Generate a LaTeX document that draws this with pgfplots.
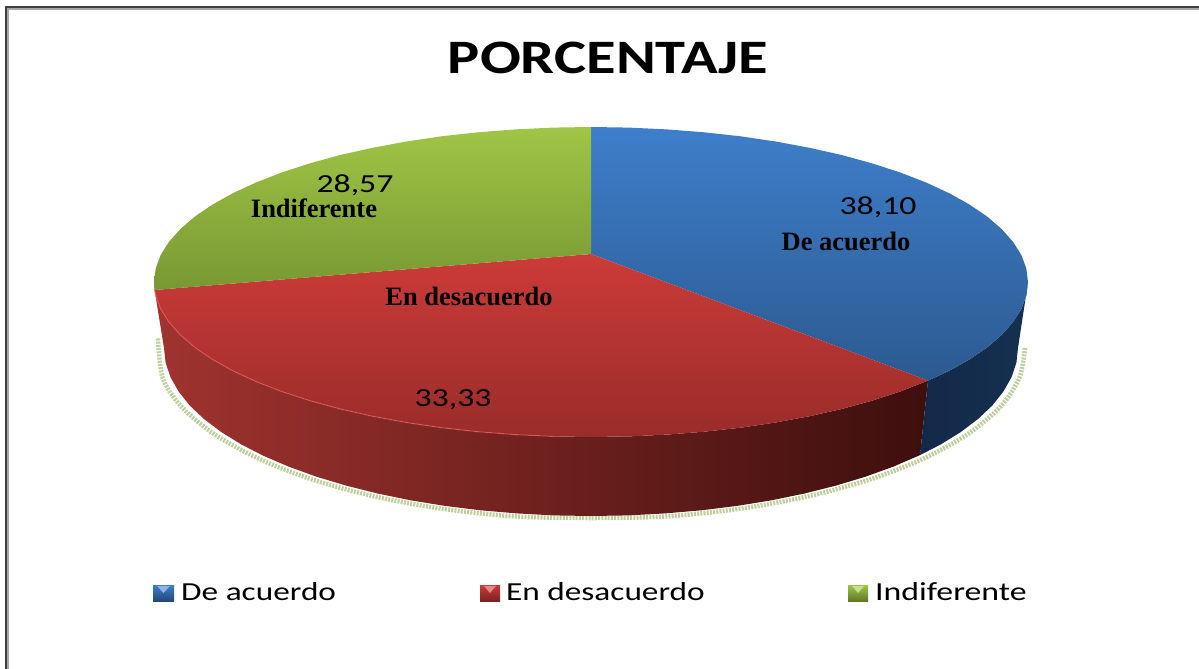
\documentclass[border=0pt]{standalone}
\usepackage{graphicx}
\usepackage{fontspec}
\setmainfont{Carlito}
\newfontfamily\serifbold{Liberation Serif}
\usepackage{pgfplots}
\pgfplotsset{compat=1.18}

\definecolor{blueA}{HTML}{3E7ECB}
\definecolor{blueB}{HTML}{2C5A90}
\definecolor{blueS}{HTML}{13294A}
\definecolor{blueT}{HTML}{15304F}
\definecolor{redA}{HTML}{CC3B39}
\definecolor{redB}{HTML}{992C29}
\definecolor{redL}{HTML}{A0332F}
\definecolor{redM}{HTML}{561917}
\definecolor{redR}{HTML}{3D0F0D}
\definecolor{greenA}{HTML}{A0C546}
\definecolor{greenB}{HTML}{789832}
\definecolor{shadowc}{HTML}{BDCF9C}

\newcommand{\lab}[2]{\scalebox{#1}[1]{\fontsize{26}{26}\selectfont #2}}
\newcommand{\blab}[1]{\fontsize{26.5}{26.5}\serifbold\bfseries #1}

\begin{document}
\begin{tikzpicture}
\begin{axis}[
    x=1pt, y=1pt,
    scale only axis,
    xmin=0, xmax=1199,
    ymin=0, ymax=669,
    y dir=reverse,
    hide axis,
]
% keeps the page at the full size, hide axis drops the box otherwise
\path (axis cs:0,0) rectangle (axis cs:1199,669);

% frame
\addplot[line width=1.5pt,color=black!75] coordinates {(6,669) (6,7) (1199,7)};
\addplot[line width=1.5pt,color=black!35] coordinates {(8,669) (8,9) (1199,9)};

% fuzzy shadow
\addplot[smooth,line width=4.5pt,color=shadowc,dash pattern=on 2pt off 1.2pt] coordinates {
    (1025,348) (1019.4,377.7) (1000.7,406.5) (968.6,433.5) (925,457.9) (871.3,479)
    (809,496.1) (740.1,508.7) (666.7,516.4) (591,518) (515.3,516.4) (441.9,508.7)
    (373,496.1) (310.7,479) (257,457.9) (213.4,433.5) (181.3,406.5) (162.6,377.7) (158,338)
};

% blue side
\addplot[draw=none,left color=blueS,right color=blueT] coordinates {
    (1028,282) (1026.3,295.5) (1021.4,308.9) (1013.1,322.1) (1001.6,335) (987.1,347.5)
    (969.4,359.5) (949,370.9) (928,380.6)
    (920,455.1) (940.8,444.4) (960.8,432) (978,419) (992.3,405.5) (1003.4,391.5)
    (1011.5,377.2) (1016.4,362.6) (1018,348)
} --cycle;
% red side
\addplot[draw=none,left color=redL,middle color=redM,right color=redR] coordinates {
    (928,380.6) (900,391.6) (871.9,400.7) (841.7,409) (809.5,416.2) (775.7,422.5)
    (740.5,427.7) (704.1,431.7) (666.9,434.6) (629.1,436.4) (591,437) (552.9,436.4)
    (515.1,434.6) (477.9,431.7) (441.5,427.7) (406.3,422.5) (372.5,416.2) (340.3,409)
    (310.1,400.7) (282,391.6) (256.2,381.6) (233,370.9) (212.6,359.5) (194.9,347.5)
    (180.4,335) (168.9,322.1) (160.6,308.9) (155.7,295.5) (154.6,290)
    (164,348) (165.6,362.6) (170.5,377.2) (178.6,391.5) (189.7,405.5) (204,419)
    (221.2,432) (241.2,444.4) (263.9,456) (289.1,466.8) (316.5,476.7) (346.1,485.6)
    (377.5,493.5) (410.5,500.3) (445,505.9) (480.5,510.3) (516.9,513.4) (553.8,515.4)
    (591,516) (628.2,515.4) (665.1,513.4) (701.5,510.3) (737,505.9) (771.5,500.3)
    (804.5,493.5) (835.9,485.6) (865.5,476.7) (892.9,466.8) (920,455.1)
} --cycle;

% top, De acuerdo
\addplot[draw=none,top color=blueA,bottom color=blueB] coordinates {
    (591,254) (591,127) (629.1,127.6) (666.9,129.4) (704.1,132.3) (740.5,136.3)
    (775.7,141.5) (809.5,147.8) (841.7,155) (871.9,163.3) (900,172.4) (925.8,182.4)
    (949,193.1) (969.4,204.5) (987.1,216.5) (1001.6,229) (1013.1,241.9) (1021.4,255.1)
    (1026.3,268.5) (1028,282) (1026.3,295.5) (1021.4,308.9) (1013.1,322.1) (1001.6,335)
    (987.1,347.5) (969.4,359.5) (949,370.9) (928,380.6)
} --cycle;
% top, En desacuerdo
\addplot[draw=none,top color=redA,bottom color=redB] coordinates {
    (591,254) (928,380.6) (900,391.6) (871.9,400.7) (841.7,409) (809.5,416.2) (775.7,422.5)
    (740.5,427.7) (704.1,431.7) (666.9,434.6) (629.1,436.4) (591,437) (552.9,436.4)
    (515.1,434.6) (477.9,431.7) (441.5,427.7) (406.3,422.5) (372.5,416.2) (340.3,409)
    (310.1,400.7) (282,391.6) (256.2,381.6) (233,370.9) (212.6,359.5) (194.9,347.5)
    (180.4,335) (168.9,322.1) (160.6,308.9) (155.7,295.5) (154.6,290)
} --cycle;
% top, Indiferente
\addplot[draw=none,top color=greenA,bottom color=greenB] coordinates {
    (591,254) (154.6,290) (154,282) (155.7,268.5) (160.6,255.1) (168.9,241.9) (180.4,229)
    (194.9,216.5) (212.6,204.5) (233,193.1) (256.2,182.4) (282,172.4) (310.1,163.3)
    (340.3,155) (372.5,147.8) (406.3,141.5) (441.5,136.3) (477.9,132.3) (515.1,129.4)
    (552.9,127.6) (591,127)
} --cycle;
% light rim on the red front edge
\addplot[line width=1.2pt,color=red!60!white,opacity=.45] coordinates {
    (154.6,290) (155.7,295.5) (160.6,308.9) (168.9,322.1) (180.4,335) (194.9,347.5)
    (212.6,359.5) (233,370.9) (256.2,381.6) (282,391.6) (310.1,400.7) (340.3,409)
    (372.5,416.2) (406.3,422.5) (441.5,427.7) (477.9,431.7) (515.1,434.6) (552.9,436.4)
};

% legend swatches
\addplot[draw=none,top color=blueA,bottom color=blueB!80!black] coordinates {(153,585) (174,585) (174,601) (153,601)} --cycle;
\addplot[draw=none,fill=blueA!60!white] coordinates {(157,586) (170,586) (163.5,593)} --cycle;
\addplot[draw=none,top color=redA,bottom color=redB!80!black] coordinates {(480,585) (500,585) (500,601) (480,601)} --cycle;
\addplot[draw=none,fill=redA!60!white] coordinates {(484,586) (496,586) (490,593)} --cycle;
\addplot[draw=none,top color=greenA,bottom color=greenB!80!black] coordinates {(848,585) (868,585) (868,601) (848,601)} --cycle;
\addplot[draw=none,fill=greenA!60!white] coordinates {(852,586) (864,586) (858,593)} --cycle;

% texts
\node at (axis cs:608,58) {\scalebox{1.26}[1]{\bfseries\fontsize{48}{48}\selectfont PORCENTAJE}};
\node at (axis cs:878,207) {\lab{1.3}{38,10}};
\node at (axis cs:453,400) {\lab{1.3}{33,33}};
\node at (axis cs:355,185) {\lab{1.3}{28,57}};
\node at (axis cs:846,241) {\blab{De acuerdo}};
\node at (axis cs:469,296) {\blab{En desacuerdo}};
\node at (axis cs:314,208) {\blab{Indiferente}};
\node[anchor=west,inner sep=0pt] at (axis cs:181,592) {\lab{1.28}{De acuerdo}};
\node[anchor=west,inner sep=0pt] at (axis cs:506,592) {\lab{1.28}{En desacuerdo}};
\node[anchor=west,inner sep=0pt] at (axis cs:875,592) {\lab{1.3}{Indiferente}};
\end{axis}
\end{tikzpicture}
\end{document}
